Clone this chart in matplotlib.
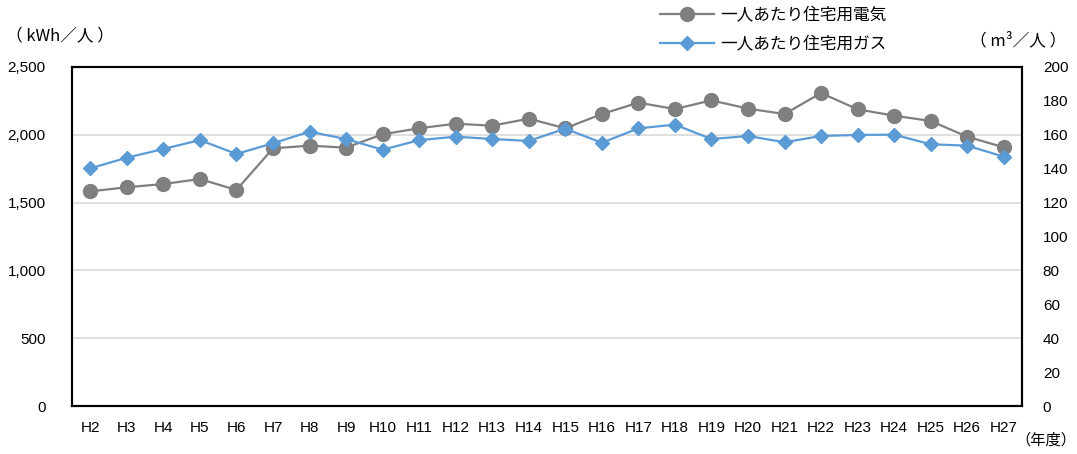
import matplotlib
matplotlib.use("Agg")
import matplotlib.pyplot as plt
from matplotlib.lines import Line2D

plt.rcParams['font.family'] = ['Liberation Sans', 'Noto Sans CJK JP', 'DejaVu Sans']

years = ["H2", "H3", "H4", "H5", "H6", "H7", "H8", "H9", "H10", "H11", "H12", "H13", "H14",
         "H15", "H16", "H17", "H18", "H19", "H20", "H21", "H22", "H23", "H24", "H25", "H26", "H27"]
electricity = [1583, 1613, 1637, 1674, 1593, 1900, 1920, 1905, 2004, 2048, 2082, 2067, 2119,
               2048, 2153, 2237, 2190, 2254, 2193, 2153, 2308, 2188, 2141, 2102, 1986, 1908]
gas = [140.2, 146.5, 151.6, 156.9, 148.7, 155.0, 161.8, 157.5, 151.2, 156.8, 158.9, 157.5, 156.4,
       163.6, 155.3, 163.8, 166.0, 157.5, 159.3, 155.6, 159.3, 159.9, 160.1, 154.4, 153.6, 147.1]
left_ticks = [0, 500, 1000, 1500, 2000, 2500]
right_ticks = [0, 20, 40, 60, 80, 100, 120, 140, 160, 180, 200]
label_elec = "一人あたり住宅用電気"
label_gas = "一人あたり住宅用ガス"

GRAY = "#7f7f7f"
BLUE = "#5b9bd5"
JP = ['Noto Sans CJK JP', 'DejaVu Sans']

fig = plt.figure(figsize=(10.77, 4.54), dpi=100)
ax = fig.add_axes([72/1077, 48/454, 950/1077, 339/454])
ax2 = ax.twinx()

x = list(range(len(years)))
ax.plot(x, electricity, color=GRAY, lw=1.6, marker='o', ms=10, zorder=3)
ax2.plot(x, gas, color=BLUE, lw=1.6, marker='D', ms=7.5, zorder=3)

ax.set_xlim(-0.5, len(years) - 0.5)
ax.set_ylim(0, 2500)
ax2.set_ylim(0, 200)
ax.set_yticks(left_ticks)
ax.set_yticklabels([f"{v:,}" for v in left_ticks])
ax2.set_yticks(right_ticks)
ax.set_xticks(x)
ax.set_xticklabels(years)

ax.grid(axis='y', color='#d9d9d9', lw=1.2, zorder=0)
ax.set_axisbelow(True)

for a in (ax, ax2):
    a.tick_params(length=0, labelsize=11, colors='black')
    for s in a.spines.values():
        s.set_color('black')
        s.set_linewidth(1.5)
ax.tick_params(axis='y', pad=19)
ax2.tick_params(axis='y', pad=15)
ax.tick_params(axis='x', pad=11, labelsize=11)

fig.text(6/1077, 1 - 36/454, "（ kWh／人 ）", fontsize=12, va='center', ha='left', family=JP)
fig.text(1066/1077, 1 - 41/454, "（ m³／人 ）", fontsize=12, va='center', ha='right', family=JP)
fig.text(1076/1077, 1 - 440/454, "（年度）", fontsize=11, va='center', ha='right', family=JP)

handles = [Line2D([], [], color=GRAY, lw=1.6, marker='o', ms=10),
           Line2D([], [], color=BLUE, lw=1.6, marker='D', ms=7.5)]
fig.legend(handles, [label_elec, label_gas], loc='center left',
           bbox_to_anchor=(652/1077, 1 - 30/454), frameon=False,
           prop={'family': JP, 'size': 12},
           handlelength=3.2, labelspacing=0.7, handletextpad=0.4, borderpad=0)

fig.savefig("out.png", dpi=100)
